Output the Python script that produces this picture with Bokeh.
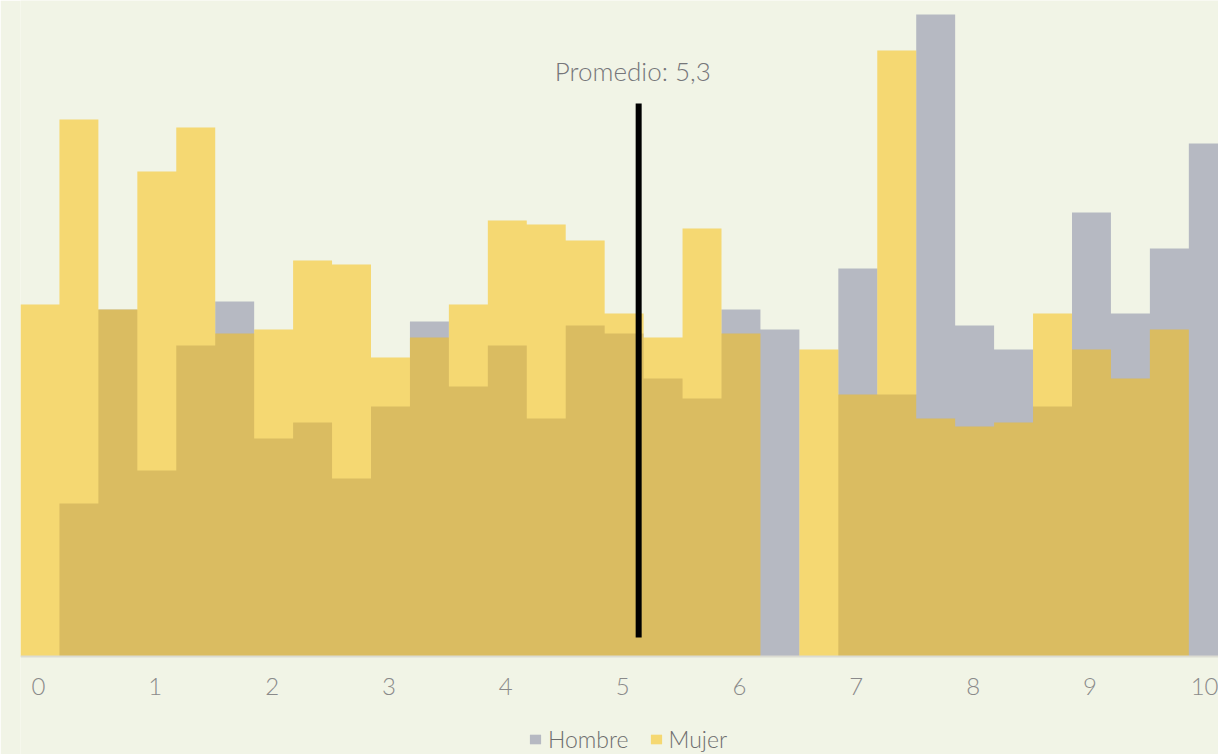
import numpy as np
from bokeh.plotting import figure
from bokeh.models import FixedTicker, Legend, LegendItem, ColumnDataSource, Label
from bokeh.embed import file_html
from bokeh.resources import INLINE

# Histogram counts per bin (31 bins of width 1/3 over the 0-10 score scale)
hombre = [0.0, 15.3, 34.7, 18.6, 31.1, 35.5, 21.8, 23.4, 17.8, 25.0,
          33.5, 27.0, 31.1, 23.8, 33.1, 32.3, 27.8, 25.8, 34.7, 32.7,
          0.0, 38.8, 26.2, 64.2, 33.1, 30.7, 25.0, 44.4, 34.3, 40.8, 51.3]
mujer = [35.2, 53.7, 34.7, 48.5, 52.9, 32.3, 32.7, 39.6, 39.2, 29.9,
         31.9, 35.2, 43.6, 43.2, 41.6, 34.3, 31.9, 42.8, 32.3, 0.0,
         30.7, 26.2, 60.6, 23.8, 23.0, 23.4, 34.3, 30.7, 27.8, 32.7, 0.0]
bin_start = -0.154
bin_width = 1 / 3
promedio = 5.137
promedio_label = "Promedio: 5,3"
tick_values = list(range(0, 11))
series_names = ["Hombre", "Mujer"]

edges = bin_start + np.arange(len(hombre) + 1) * bin_width
src = ColumnDataSource(dict(x=edges,
                            hombre=list(hombre) + [hombre[-1]],
                            mujer=list(mujer) + [mujer[-1]],
                            zero=[0] * len(edges)))

BG = "#F1F4E6"
FONT = "Lato Light, Lato"

p = figure(width=1218, height=754, output_backend="svg", toolbar_location=None,
           x_range=(-0.154, 10.10), y_range=(-9.8, 65.6),
           min_border_left=20, min_border_right=0, min_border_top=0,
           min_border_bottom=0)
p.background_fill_color = BG
p.border_fill_color = BG
p.outline_line_color = None
p.grid.visible = False
p.yaxis.visible = False

rh = p.varea_step(x="x", y1="zero", y2="hombre", step_mode="after", source=src,
                  fill_color="#B6B9C2")
rm = p.varea_step(x="x", y1="zero", y2="mujer", step_mode="after", source=src,
                  fill_color="#FABF0B", fill_alpha=0.53)

p.segment(x0=[promedio], x1=[promedio], y0=[1.9], y1=[55.3], line_color="black", line_width=6)
p.add_layout(Label(x=promedio - 0.05, y=58.6, text=promedio_label, text_align="center",
                   text_baseline="middle", text_font=FONT, text_font_size="26px",
                   text_color="#76767A"))

ax = p.xaxis[0]
ax.fixed_location = 0
ax.ticker = FixedTicker(ticks=tick_values)
ax.major_tick_line_color = None
ax.minor_tick_line_color = None
ax.major_tick_out = 0
ax.major_tick_in = 0
ax.axis_line_color = "#DCDCD2"
ax.axis_line_width = 2
ax.major_label_text_font = FONT
ax.major_label_text_font_size = "24px"
ax.major_label_text_color = "#8A8A8A"
ax.major_label_standoff = 21

legend = Legend(items=[LegendItem(label=series_names[0], renderers=[rh]),
                       LegendItem(label=series_names[1], renderers=[rm])],
                orientation="horizontal", location=(508, 1),
                background_fill_alpha=0, border_line_color=None,
                label_text_font=FONT, label_text_font_size="23px",
                label_text_color="#6E6E6E", glyph_width=14, glyph_height=12,
                label_standoff=6, spacing=20, padding=0, margin=0)
p.add_layout(legend, "center")

open("out.html", "w").write(file_html(p, INLINE))
